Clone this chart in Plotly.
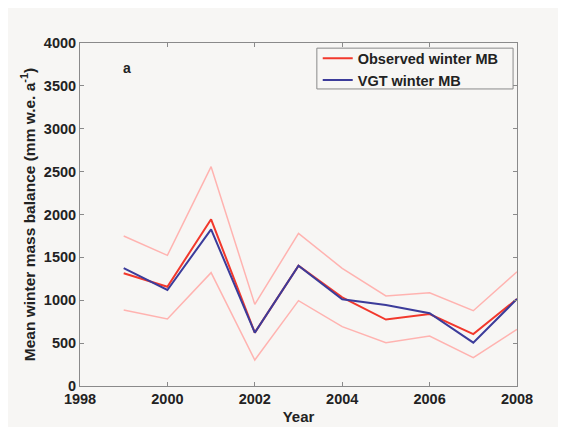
import plotly.graph_objects as go

years = [1999, 2000, 2001, 2002, 2003, 2004, 2005, 2006, 2007, 2008]
observed = [1315, 1158, 1944, 622, 1403, 1034, 775, 840, 606, 1015]
vgt = [1375, 1120, 1827, 622, 1403, 1011, 945, 848, 505, 1015]
upper = [1749, 1524, 2558, 952, 1780, 1372, 1050, 1088, 878, 1333]
lower = [886, 781, 1322, 303, 995, 692, 505, 583, 330, 661]

bg = "#f7f6f4"
band = "#ffb3b0"
red = "#f2382c"
blue = "#3c3c9a"
font = "Liberation Sans"

fig = go.Figure()
fig.add_trace(go.Scatter(x=years, y=upper, mode="lines", line=dict(color=band, width=1.5),
                         showlegend=False, hoverinfo="skip"))
fig.add_trace(go.Scatter(x=years, y=lower, mode="lines", line=dict(color=band, width=1.5),
                         showlegend=False, hoverinfo="skip"))
fig.add_trace(go.Scatter(x=years, y=observed, mode="lines", line=dict(color=red, width=2),
                         name="<b>Observed winter MB</b>"))
fig.add_trace(go.Scatter(x=years, y=vgt, mode="lines", line=dict(color=blue, width=2),
                         name="<b>VGT winter MB</b>"))

axis_common = dict(showline=True, linecolor="#8a8a8a", linewidth=1, mirror="ticks",
                   ticks="inside", ticklen=4, tickcolor="#8a8a8a", showgrid=False,
                   zeroline=False, tickfont=dict(family=font, size=14.5, color="#222"))

fig.update_xaxes(range=[1998, 2008], tickvals=[1998, 2000, 2002, 2004, 2006, 2008],
                 ticktext=["<b>1998</b>", "<b>2000</b>", "<b>2002</b>", "<b>2004</b>", "<b>2006</b>", "<b>2008</b>"],
                 title=dict(text="<b>Year</b>", font=dict(family=font, size=15, color="#222"), standoff=5),
                 **axis_common)
yt = [0, 500, 1000, 1500, 2000, 2500, 3000, 3500, 4000]
fig.update_yaxes(range=[0, 4000], tickvals=yt, ticktext=[f"<b>{v}</b>" for v in yt],
                 title=dict(text="<b>Mean winter mass balance (mm w.e. a<sup>-1</sup>)</b>",
                            font=dict(family=font, size=15.5, color="#222"), standoff=4),
                 **axis_common)

fig.add_annotation(x=0.108, y=0.927, xref="paper", yref="paper", text="<b>a</b>", showarrow=False,
                   xanchor="center", yanchor="middle",
                   font=dict(family=font, size=14, color="#222"))

# legend frame
fig.add_shape(type="rect", xref="paper", yref="paper", x0=0.542, x1=0.991, y0=0.866, y1=0.985,
              line=dict(color="#8a8a8a", width=1), fillcolor=bg, layer="below")

fig.update_layout(
    width=566, height=427,
    margin=dict(l=72, r=57, t=35, b=49),
    paper_bgcolor=bg, plot_bgcolor=bg,
    legend=dict(x=0.544, y=1.002, xanchor="left", yanchor="top", bgcolor="rgba(0,0,0,0)",
                borderwidth=0,
                font=dict(family=font, size=14.5, color="#222"),
                tracegroupgap=0, itemwidth=30),
    showlegend=True,
)

fig.write_html("out.html")
